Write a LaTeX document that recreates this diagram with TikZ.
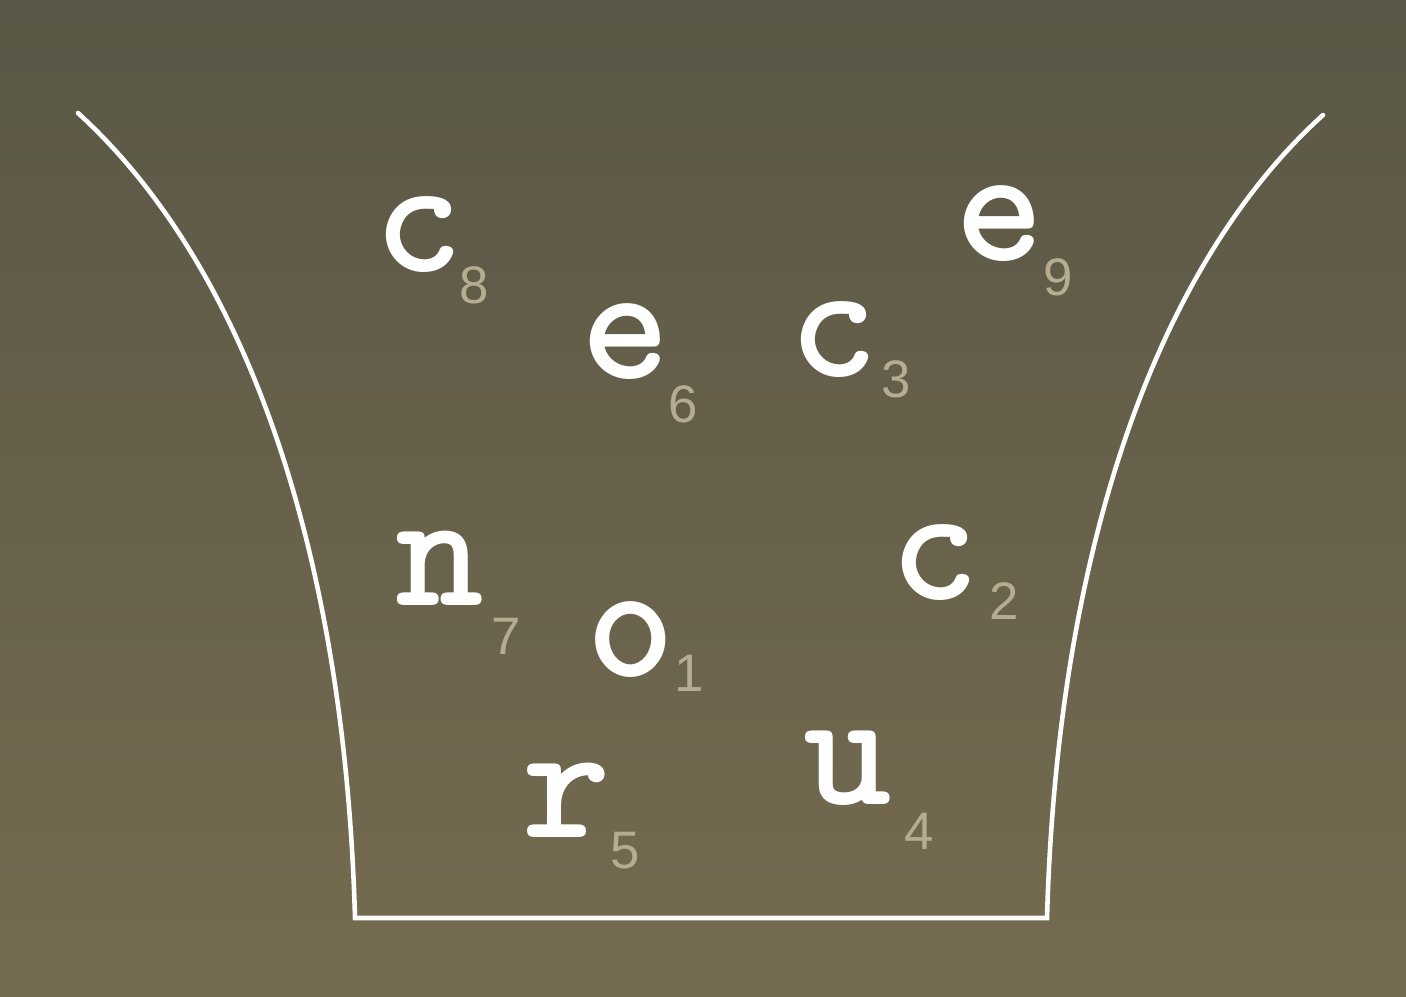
\documentclass[tikz,border=0pt]{standalone}
\usepackage{fontspec}
\newfontfamily\subfont{Liberation Sans}
\definecolor{boardtop}{RGB}{90,87,70}
\definecolor{boardmid}{RGB}{142,129,94}
\definecolor{boardbot}{RGB}{117,107,80}
\definecolor{subgrey}{RGB}{182,172,146}
\tikzset{
  letter/.style={inner sep=0pt, text=white, font=\fontsize{48}{48}\selectfont\ttfamily\bfseries},
  subnum/.style={inner sep=0pt, text=subgrey, font=\fontsize{15}{15}\selectfont\subfont},
  bucket/.style={white, line width=1.3pt, line cap=round, line join=miter}
}
\begin{document}
\begin{tikzpicture}[x=0.01cm, y=-0.01cm]

	% Board
	\useasboundingbox (0,0) rectangle (1406,996);
	\shade[top color=boardtop, middle color=boardmid, bottom color=boardbot] (0,0) rectangle (1406,996);

	% Bucket
	\draw[bucket] (78,113) .. controls (250,270) and (345,560) .. (355,918)
		-- (1047,918) .. controls (1057,560) and (1152,270) .. (1323,115);

	% Letters with their numbers
	\foreach \ch/\lx/\ly/\n/\sx/\sy in {c/419/235/8/474/285, e/626/342/6/683/404,
		c/834/340/3/896/379, e/1000/224/9/1058/277, n/440/568/7/506/636,
		o/631/640/1/689/673, c/935/563/2/1004/601, r/567/800/5/625/851,
		u/848/768/4/919/831} {
		\node[letter] (l\n) at (\lx,\ly) {\ch};
		\node[subnum] (s\n) at (\sx,\sy) {\n};
	}
\end{tikzpicture}
\end{document}
